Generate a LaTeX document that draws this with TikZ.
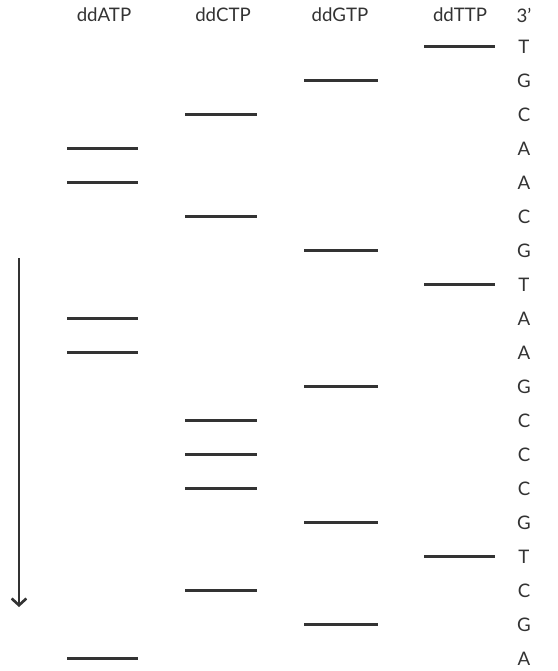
\documentclass[tikz,border=0pt]{standalone}
\usepackage{fontspec}
\setmainfont{Lato}
\usetikzlibrary{arrows.meta}
\begin{document}
\begin{tikzpicture}[x=0.75pt,y=-0.75pt,
  band/.style={line width=2.6pt, draw=black!80},
  lbl/.style={font=\fontsize{14}{16}\selectfont, text=black!80, inner sep=0pt, anchor=center},
  arr/.style={line width=2pt, draw=black!80, -{Straight Barb[length=5pt,width=11pt,line width=2pt]}}
]
\useasboundingbox (0,0) rectangle (557,671);
% headers
\node[lbl] (hA) at (104,15) {ddATP};
\node[lbl] (hC) at (223,15) {ddCTP};
\node[lbl] (hG) at (340,15) {ddGTP};
\node[lbl] (hT) at (460,15) {ddTTP};
\node[lbl] (h3) at (524,15) {3’};
% lanes: left and right x
\def\AL{67}\def\AR{138}
\def\CL{185}\def\CR{257}
\def\GL{304}\def\GR{378}
\def\TL{424}\def\TR{495}
\foreach \L [count=\i] in {T,G,C,A,A,C,G,T,A,A,G,C,C,C,G,T,C,G,A}{
  \pgfmathsetmacro{\yy}{46.5+(\i-1)*34.0}
  \node[lbl] (s\i) at (524,\yy) {\L};
  \draw[band] (\csname\L L\endcsname,\yy) -- (\csname\L R\endcsname,\yy);
}
% arrow
\coordinate (a0) at (19,258);
\coordinate (a1) at (19,607);
\draw[arr] (a0) -- (a1);
\end{tikzpicture}
\end{document}
